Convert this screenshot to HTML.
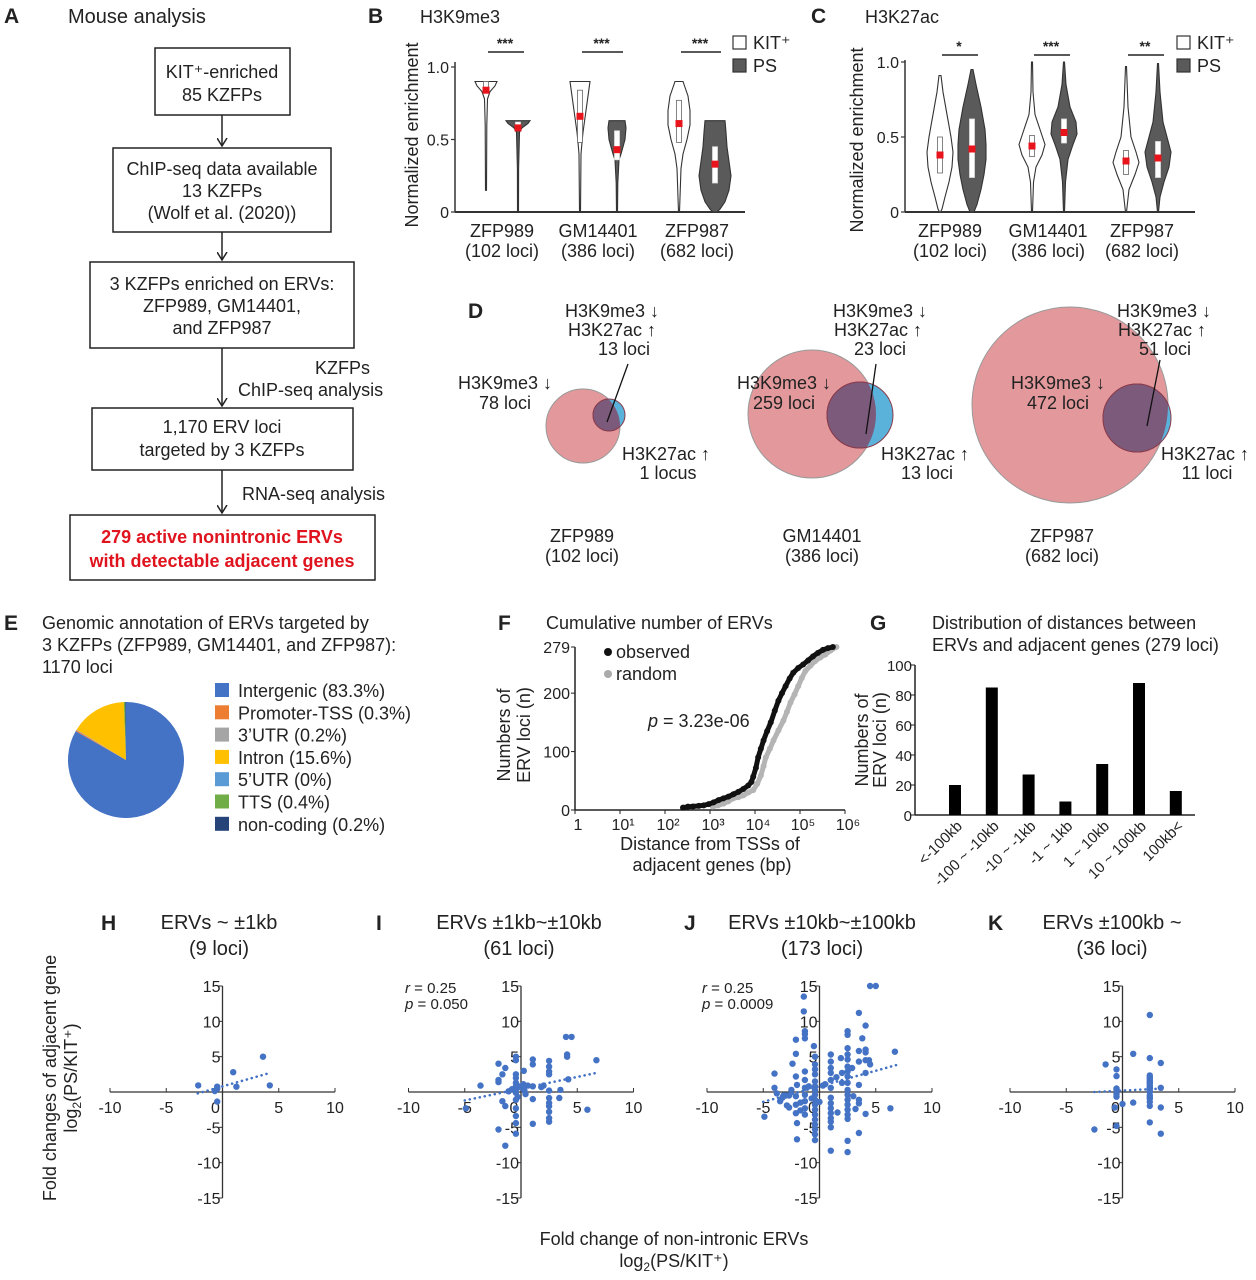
<!DOCTYPE html>
<html><head><meta charset="utf-8">
<style>
html,body{margin:0;padding:0;background:#fff;}
svg{display:block;font-family:"Liberation Sans",Arial,sans-serif;}
.t{font-size:18px;fill:#222;}
.s{font-size:16px;fill:#222;}
.k{font-size:15px;fill:#222;}
.L{font-size:21px;font-weight:bold;fill:#222;}
</style></head>
<body>
<svg id="fig" width="1256" height="1280" viewBox="0 0 1256 1280" xmlns="http://www.w3.org/2000/svg">
<defs>
<marker id="arr" markerWidth="12" markerHeight="12" refX="5" refY="8" orient="0" markerUnits="userSpaceOnUse"><path d="M0,0 L5,8 L10,0" fill="none" stroke="#222" stroke-width="1.5"/></marker>
<clipPath id="c1"><circle cx="583" cy="426" r="37"/></clipPath>
<clipPath id="c2"><circle cx="812" cy="414" r="64"/></clipPath>
<clipPath id="c3"><circle cx="1070" cy="405" r="98"/></clipPath>
</defs>

<!-- Panel A -->
<g>
<text x="4" y="23" class="L">A</text>
<text x="68" y="23" class="t" style="font-size:20px">Mouse analysis</text>
<rect x="155" y="48" width="135" height="67" fill="none" stroke="#222" stroke-width="1.5"/>
<text x="222" y="78" text-anchor="middle" class="t">KIT⁺-enriched</text>
<text x="222" y="101" text-anchor="middle" class="t">85 KZFPs</text>
<line x1="222" y1="115" x2="222" y2="146" stroke="#222" stroke-width="1.5" marker-end="url(#arr)"/>
<rect x="113" y="148" width="218" height="84" fill="none" stroke="#222" stroke-width="1.5"/>
<text x="222" y="175" text-anchor="middle" class="t">ChIP-seq data available</text>
<text x="222" y="197" text-anchor="middle" class="t">13 KZFPs</text>
<text x="222" y="219" text-anchor="middle" class="t">(Wolf et al. (2020))</text>
<line x1="222" y1="232" x2="222" y2="260" stroke="#222" stroke-width="1.5" marker-end="url(#arr)"/>
<rect x="90" y="262" width="264" height="86" fill="none" stroke="#222" stroke-width="1.5"/>
<text x="222" y="290" text-anchor="middle" class="t">3 KZFPs enriched on ERVs:</text>
<text x="222" y="312" text-anchor="middle" class="t">ZFP989, GM14401,</text>
<text x="222" y="334" text-anchor="middle" class="t">and ZFP987</text>
<line x1="222" y1="348" x2="222" y2="406" stroke="#222" stroke-width="1.5" marker-end="url(#arr)"/>
<text x="315" y="374" class="t">KZFPs</text>
<text x="238" y="396" class="t">ChIP-seq analysis</text>
<rect x="92" y="408" width="261" height="62" fill="none" stroke="#222" stroke-width="1.5"/>
<text x="222" y="433" text-anchor="middle" class="t">1,170 ERV loci</text>
<text x="222" y="456" text-anchor="middle" class="t">targeted by 3 KZFPs</text>
<line x1="222" y1="470" x2="222" y2="513" stroke="#222" stroke-width="1.5" marker-end="url(#arr)"/>
<text x="242" y="500" class="t">RNA-seq analysis</text>
<rect x="70" y="515" width="305" height="65" fill="none" stroke="#222" stroke-width="1.5"/>
<text x="222" y="543" text-anchor="middle" class="t" style="fill:#e0141e;font-weight:bold">279 active nonintronic ERVs</text>
<text x="222" y="567" text-anchor="middle" class="t" style="fill:#e0141e;font-weight:bold">with detectable adjacent genes</text>
</g>

<!-- Panel B / C static -->
<text x="368" y="23" class="L">B</text>
<text x="420" y="23" class="t">H3K9me3</text>
<text x="811" y="23" class="L">C</text>
<text x="865" y="23" class="t">H3K27ac</text>
<text transform="translate(418,135) rotate(-90)" text-anchor="middle" class="t">Normalized enrichment</text>
<text transform="translate(863,140) rotate(-90)" text-anchor="middle" class="t">Normalized enrichment</text>
<g id="gB"></g>
<g id="gC"></g>

<!-- Panel D -->
<g>
<text x="468" y="318" class="L">D</text>
<circle cx="583" cy="426" r="37" fill="#e3999c" stroke="#999" stroke-width="1"/>
<circle cx="609" cy="415" r="16" fill="#5ab2da" stroke="#8a3a4a" stroke-width="1"/>
<circle cx="609" cy="415" r="16" fill="#7b5a7b" clip-path="url(#c1)" stroke="#8a3a4a"/>
<circle cx="812" cy="414" r="64" fill="#e3999c" stroke="#999" stroke-width="1"/>
<circle cx="860" cy="415" r="33" fill="#5ab2da" stroke="#8a3a4a" stroke-width="1"/>
<circle cx="860" cy="415" r="33" fill="#7b5a7b" clip-path="url(#c2)" stroke="#8a3a4a"/>
<circle cx="1070" cy="405" r="98" fill="#e3999c" stroke="#999" stroke-width="1"/>
<circle cx="1137" cy="418" r="34" fill="#5ab2da" stroke="#8a3a4a" stroke-width="1"/>
<circle cx="1137" cy="418" r="34" fill="#7b5a7b" clip-path="url(#c3)" stroke="#8a3a4a"/>
<line x1="628" y1="364" x2="607" y2="422" stroke="#111" stroke-width="1.3"/>
<line x1="876" y1="364" x2="866" y2="434" stroke="#111" stroke-width="1.3"/>
<line x1="1160" y1="360" x2="1147" y2="426" stroke="#111" stroke-width="1.3"/>
<g class="t" text-anchor="middle">
<text x="612" y="317">H3K9me3 ↓</text>
<text x="612" y="336">H3K27ac ↑</text>
<text x="624" y="355">13 loci</text>
<text x="505" y="389">H3K9me3 ↓</text>
<text x="505" y="409">78 loci</text>
<text x="666" y="460">H3K27ac ↑</text>
<text x="668" y="479">1 locus</text>
<text x="880" y="317">H3K9me3 ↓</text>
<text x="878" y="336">H3K27ac ↑</text>
<text x="880" y="355">23 loci</text>
<text x="784" y="389">H3K9me3 ↓</text>
<text x="784" y="409">259 loci</text>
<text x="925" y="460">H3K27ac ↑</text>
<text x="927" y="479">13 loci</text>
<text x="1164" y="317">H3K9me3 ↓</text>
<text x="1162" y="336">H3K27ac ↑</text>
<text x="1165" y="355">51 loci</text>
<text x="1058" y="389">H3K9me3 ↓</text>
<text x="1058" y="409">472 loci</text>
<text x="1205" y="460">H3K27ac ↑</text>
<text x="1207" y="479">11 loci</text>
<text x="582" y="542">ZFP989</text>
<text x="582" y="562">(102 loci)</text>
<text x="822" y="542">GM14401</text>
<text x="822" y="562">(386 loci)</text>
<text x="1062" y="542">ZFP987</text>
<text x="1062" y="562">(682 loci)</text>
</g>
</g>

<!-- Panel E -->
<g>
<text x="4" y="630" class="L">E</text>
<text x="42" y="629" class="t">Genomic annotation of ERVs targeted by</text>
<text x="42" y="651" class="t">3 KZFPs (ZFP989, GM14401, and ZFP987):</text>
<text x="42" y="673" class="t">1170 loci</text>
<g id="gE"></g>
</g>

<!-- Panel F -->
<text x="498" y="630" class="L">F</text>
<text x="546" y="629" class="t">Cumulative number of ERVs</text>
<text transform="translate(510,735) rotate(-90)" text-anchor="middle" class="t">Numbers of</text>
<text transform="translate(530,735) rotate(-90)" text-anchor="middle" class="t">ERV loci (n)</text>
<text x="710" y="850" text-anchor="middle" class="t">Distance from TSSs of</text>
<text x="712" y="871" text-anchor="middle" class="t">adjacent genes (bp)</text>
<text x="648" y="727" class="t"><tspan font-style="italic">p</tspan> = 3.23e-06</text>
<circle cx="608" cy="652" r="4" fill="#111"/>
<text x="616" y="658" class="t">observed</text>
<circle cx="608" cy="674" r="4" fill="#aaa"/>
<text x="616" y="680" class="t">random</text>
<g id="gF"></g>

<!-- Panel G -->
<text x="870" y="630" class="L">G</text>
<text x="932" y="629" class="t">Distribution of distances between</text>
<text x="932" y="651" class="t">ERVs and adjacent genes (279 loci)</text>
<text transform="translate(868,740) rotate(-90)" text-anchor="middle" class="t">Numbers of</text>
<text transform="translate(886,740) rotate(-90)" text-anchor="middle" class="t">ERV loci (n)</text>
<g id="gG"></g>

<!-- Panels H-K -->
<g class="t" style="font-size:20px">
<text x="101" y="930" class="L">H</text>
<text x="219" y="929" text-anchor="middle">ERVs ~ ±1kb</text>
<text x="219" y="955" text-anchor="middle">(9 loci)</text>
<text x="376" y="930" class="L">I</text>
<text x="519" y="929" text-anchor="middle">ERVs ±1kb~±10kb</text>
<text x="519" y="955" text-anchor="middle">(61 loci)</text>
<text x="684" y="930" class="L">J</text>
<text x="822" y="929" text-anchor="middle">ERVs ±10kb~±100kb</text>
<text x="822" y="955" text-anchor="middle">(173 loci)</text>
<text x="988" y="930" class="L">K</text>
<text x="1112" y="929" text-anchor="middle">ERVs ±100kb ~</text>
<text x="1112" y="955" text-anchor="middle">(36 loci)</text>
</g>
<text x="405" y="993" class="k" style="font-size:15px"><tspan font-style="italic">r</tspan> = 0.25</text>
<text x="405" y="1009" class="k" style="font-size:15px"><tspan font-style="italic">p</tspan> = 0.050</text>
<text x="702" y="993" class="k" style="font-size:15px"><tspan font-style="italic">r</tspan> = 0.25</text>
<text x="702" y="1009" class="k" style="font-size:15px"><tspan font-style="italic">p</tspan> = 0.0009</text>
<text transform="translate(56,1078) rotate(-90)" text-anchor="middle" class="t">Fold changes of adjacent gene</text>
<text transform="translate(77,1078) rotate(-90)" text-anchor="middle" class="t">log<tspan font-size="12" dy="4">2</tspan><tspan dy="-4">(PS/KIT⁺)</tspan></text>
<text x="674" y="1245" text-anchor="middle" class="t">Fold change of non-intronic ERVs</text>
<text x="674" y="1267" text-anchor="middle" class="t">log<tspan font-size="12" dy="4">2</tspan><tspan dy="-4">(PS/KIT⁺)</tspan></text>
<g id="gS"></g>
</svg>

<script>
// ---------- DATA ----------
const violinGroups = ['ZFP989','GM14401','ZFP987'];
const violinLoci = ['(102 loci)','(386 loci)','(682 loci)'];
const bStars = ['***','***','***'];
const cStars = ['*','***','**'];
const bKitShapes = [
 [[0.9,11],[0.87,9],[0.83,4],[0.78,1.5],[0.6,0.8],[0.15,0.5]],
 [[0.9,10],[0.85,9],[0.75,7],[0.65,5],[0.55,3],[0.48,2],[0.4,1],[0,0.5]],
 [[0.9,4],[0.8,9],[0.7,11],[0.6,11],[0.5,8],[0.4,4],[0.3,2],[0.1,1],[0,0.5]]];
const bPsShapes = [
 [[0.63,12],[0.61,10],[0.58,4],[0.55,1.5],[0.3,0.6],[0,0.5]],
 [[0.63,8],[0.58,9],[0.5,8],[0.45,6],[0.4,4],[0.36,2],[0.2,0.8],[0,0.5]],
 [[0.63,10],[0.55,11],[0.45,12],[0.35,14],[0.25,16],[0.15,14],[0.07,10],[0.02,5],[0,2]]];
const bKitBox = [[0.84,0.9],[0.48,0.84],[0.48,0.77]];
const bPsBox = [[0.57,0.62],[0.36,0.56],[0.2,0.45]];
const bKitMean = [0.84,0.66,0.61];
const bPsMean = [0.58,0.43,0.33];
const cKitShapes = [
 [[0.91,1],[0.8,3],[0.65,7],[0.5,11],[0.4,13],[0.3,12],[0.2,9],[0.1,5],[0.02,2],[0,0.5]],
 [[1.0,0.5],[0.8,1],[0.65,3],[0.55,8],[0.45,13],[0.38,10],[0.3,4],[0.2,1.5],[0,0.5]],
 [[0.97,0.5],[0.7,2],[0.5,5],[0.4,10],[0.33,13],[0.25,9],[0.15,3],[0,0.5]]];
const cPsShapes = [
 [[0.95,1],[0.85,4],[0.7,9],[0.55,13],[0.45,14],[0.35,14],[0.25,12],[0.15,9],[0.05,5],[0,2]],
 [[1.0,0.5],[0.85,2],[0.7,6],[0.6,12],[0.52,13],[0.45,9],[0.35,4],[0.2,1.5],[0,0.5]],
 [[0.99,0.5],[0.8,2],[0.6,5],[0.5,9],[0.4,13],[0.3,11],[0.2,6],[0.1,2],[0,0.5]]];
const cKitBox = [[0.26,0.5],[0.37,0.51],[0.25,0.41]];
const cPsBox = [[0.23,0.62],[0.46,0.62],[0.23,0.47]];
const cKitMean = [0.38,0.44,0.34];
const cPsMean = [0.42,0.53,0.36];
const violinTicks = [0,0.5,1.0];
const violinTickLabels = ['0','0.5','1.0'];

const pieLabels = ['Intergenic (83.3%)','Promoter-TSS (0.3%)','3’UTR (0.2%)','Intron (15.6%)','5’UTR (0%)','TTS (0.4%)','non-coding (0.2%)'];
const pieValues = [83.3,0.3,0.2,15.6,0,0.4,0.2];
const pieColors = ['#4472c4','#ed7d31','#a5a5a5','#ffc000','#5b9bd5','#70ad47','#264478'];

const obsLogX = [2.4,2.51,2.62,2.75,2.86,2.97,3.08,3.19,3.3,3.41,3.52,3.63,3.74,3.85,3.92,3.96,4.02,4.07,4.13,4.19,4.27,4.35,4.44,4.52,4.6,4.68,4.77,4.85,4.96,5.07,5.18,5.29,5.4,5.51,5.62,5.73];
const obsN = [4,5.7,6,7,8,10,13,17,20,23,27,31,36,42,48,57,72,90,105,119,135,150,170,187,200,212,225,235,243,249,256,263,269,274,277,279];
const rndLogX = [3.06,3.18,3.3,3.41,3.52,3.63,3.74,3.85,3.96,4.05,4.13,4.19,4.24,4.33,4.41,4.52,4.63,4.71,4.79,4.88,4.96,5.04,5.12,5.23,5.34,5.45,5.56,5.68,5.81];
const rndN = [5.7,8,11,15,20,22,25,30,34,45,59,75,90,105,119,136,153,168,184,198,212,226,238,247,255,261,266,273,279];
const fTicksY = [0,100,200,279];
const fTicksX = [0,1,2,3,4,5,6];
const fTickXLabels = ['1','10¹','10²','10³','10⁴','10⁵','10⁶'];

const gCategories = ['<-100kb','-100 ~ -10kb','-10 ~ -1kb','-1 ~ 1kb','1 ~ 10kb','10 ~ 100kb','100kb<'];
const gValues = [20,85,27,9,34,88,16];
const gTicks = [0,20,40,60,80,100];

const hX = [-2.16,-0.47,-0.47,-0.68,-0.47,0.95,1.24,3.6,4.2];
const hY = [0.94,0.75,0.47,0.14,-1.36,2.8,0.75,5.0,0.94];
const hTrend = [[-2.2,-0.2],[4,2.6]];
const iX = [-4.9,-3.6,-2,-2,-2,-1.65,-1.4,-1.65,-1.4,-2,-1.4,-0.45,-0.45,-0.45,-0.45,-0.45,-0.45,-0.45,-0.45,-0.45,-0.45,-0.45,-0.45,-0.2,0.1,0.25,1.05,1.05,1.05,1.05,1.05,2.5,2.5,2.5,2.5,2.5,2.5,2.5,2.5,2.5,2.5,2,3.5,3.4,4,4.5,4.1,4.1,4.2,5.9,6.7,-0.45,0.3,-0.8,0.6,1.8,-0.3,0.4,-1.1,0.2,2.5];
const iY = [-2.3,0.9,4,1.7,1.4,2.5,3.4,-1.3,-2,-5.3,-7.6,5,4.5,2.5,2,1.3,0.8,0.3,-1.1,-2.3,-3.4,-4.4,-5.9,0.8,0.6,3,4.6,3.9,0.8,-1,-4.5,4.4,3.6,2.9,2.5,-0.85,-1.55,-2,-2.8,-3.7,-4.2,0.9,0.3,-0.85,7.8,7.8,5.3,5,1.8,-2.5,4.5,-0.1,0.2,0.4,0.9,0.7,-0.7,-0.3,0.1,1.1,0.2];
const iTrend = [[-5,-1.2],[6.7,2.7]];
const jX = [-4.9,-4,-4,-3.5,-3.2,-3,-2.7,-2.4,-2.1,-2.1,-2.1,-2,-2.1,-2.1,-2.1,-2,-2,-2.5,-1.4,-1.4,-1.3,-1.3,-1.3,-1.3,-1.3,-1.3,-1.3,-1.3,-1.3,-1.3,-0.95,-0.5,-0.4,-0.4,-0.4,-0.4,-0.4,-0.4,-0.4,-0.4,-0.4,-0.4,-0.4,-0.4,-0.4,-0.4,-0.4,-0.4,-0.4,0,1,1,1,1,1,1,1,1,1,1,1,1,1,1,0.5,1.9,2,2,2.5,2.5,2.5,2.5,2.5,2.5,2.5,2.5,2.5,2.5,2.5,2.5,2.5,2.5,2.5,2.5,2.5,2.5,2.9,3.5,3.5,3.5,3.5,3.5,3.5,3.5,3.8,4.1,4.1,4.1,4.1,4.4,4.1,4.1,4.5,5,4.5,6.3,6.7,-3.8,-3.3,-2.9,-1.7,-0.7,0.3,1.5,3,-1.7,-2.7,1.6,3.2];
const jY = [-3.5,2.6,0.6,-1.3,-0.5,-0.5,-0.5,4,5.4,7.4,2.2,1,-0.6,-1.8,-3,-4.4,-6.7,0.3,13.5,11.4,8.6,8.2,7.6,2.9,1.7,0.6,-0.4,-1.3,-2.3,-3.2,0.8,6.5,5,3.9,3.2,2.5,1.5,0.8,0.3,-0.4,-1.1,-1.8,-2.5,-3.2,-3.9,-4.6,-5.3,-6,-6.8,-1.4,5.3,4.3,3.4,2.7,1.7,0.6,-0.8,-1.6,-2.3,-3,-3.7,-4.2,-5,-8.3,1.1,4.8,2.7,1.3,8.6,8.1,6.2,5.3,4.6,3.6,2.9,2.2,1.3,0.3,-0.4,-1.1,-1.8,-2.5,-3.2,-3.8,-6.9,-8.5,3.4,11.2,5.8,4.3,1,-1.1,-1.6,-5.8,7.6,9.4,6,5.6,4.5,4.5,2.7,-3.1,15,15,3.9,-2.3,5.7,-0.2,-0.8,-1.9,-2.6,-0.9,0.9,2.1,-0.6,-1.5,-2.2,-2.9,-2.4];
const jTrend = [[-5,-1.4],[6.8,3.8]];
const kX = [2.43,0.95,2.43,3.4,-1.5,-0.53,-0.53,2.43,2.43,2.43,2.43,2.43,2.43,2.43,2.43,2.43,2.43,3.4,-0.53,-0.53,-0.68,0,0.95,3.4,2.43,-0.53,-2.5,3.4,2.43,2.43,-0.53,-0.53,2.43,2.43,2.43,2.43];
const kY = [10.9,5.4,4.8,4.1,3.9,3.2,2.25,2.35,1.9,1.4,0.94,0.47,0,-0.47,-0.94,-1.4,-1.97,0.6,0.28,-0.66,-2.2,-1.7,-1.5,-2.2,-4.3,-4.8,-5.3,-5.9,2.1,1.6,0.5,-0.3,1.2,0.7,0.2,-0.7];
const kTrend = [[-2.5,0],[3.8,0.5]];
const scTicks = [-10,-5,5,10];
const scYTicks = [15,10,5,-5,-10,-15];

// ---------- HELPERS ----------
const NS='http://www.w3.org/2000/svg';
function mk(parent, tag, attrs, text){
  const el=document.createElementNS(NS,tag);
  for(const k in attrs) el.setAttribute(k,attrs[k]);
  if(text!==undefined) el.textContent=text;
  parent.appendChild(el); return el;
}

// ---------- VIOLINS ----------
function drawViolin(g, cfg){
  const yS=v=>cfg.y0-(v)*cfg.ys;
  let ax=mk(g,'line',{x1:cfg.ax,y1:cfg.yTop,x2:cfg.ax,y2:cfg.y0,stroke:'#333','stroke-width':1.5});
  
  
  ax=mk(g,'line',{x1:cfg.ax,y1:cfg.y0,x2:cfg.axEnd,y2:cfg.y0,stroke:'#333','stroke-width':2});
  
  
  violinTicks.forEach((t,i)=>{
    let tk=mk(g,'line',{x1:cfg.ax-4,y1:yS(t),x2:cfg.ax,y2:yS(t),stroke:'#333','stroke-width':1.2});
    
    
    let tl=mk(g,'text',{x:cfg.ax-6,y:yS(t)+6,'text-anchor':'end',class:'k',style:'font-size:16px'},violinTickLabels[i]);
    
    
  });
  violinGroups.forEach((name,gi)=>{
    const xs=[cfg.kitX[gi],cfg.psX[gi]];
    const shapes=[cfg.kitShapes[gi],cfg.psShapes[gi]];
    const boxes=[cfg.kitBox[gi],cfg.psBox[gi]];
    const means=[cfg.kitMean[gi],cfg.psMean[gi]];
    for(let s=0;s<2;s++){
      const cx=xs[s], sh=shapes[s];
      let pts=sh.map(p=>[cx+p[1],yS(p[0])]);
      let back=sh.slice().reverse().map(p=>[cx-p[1],yS(p[0])]);
      const d='M'+pts.concat(back).map(p=>p[0].toFixed(1)+','+p[1].toFixed(1)).join(' L')+' Z';
      let v=mk(g,'path',{d:d,fill:s?'#5a5a5a':'#fff',stroke:'#333','stroke-width':1.1});
      
      
      const b=boxes[s];
      let bx=mk(g,'rect',{x:cx-2.5,y:yS(b[1]),width:5,height:yS(b[0])-yS(b[1]),fill:'#fff',stroke:s?'#ddd':'#666','stroke-width':0.8});
      
      
      let m=mk(g,'rect',{x:cx-3.5,y:yS(means[s])-3.5,width:7,height:7,fill:'#e8141c'});
      
      
    }
    const mid=(xs[0]+xs[1])/2;
    let sl=mk(g,'line',{x1:xs[0]+2,y1:cfg.sigY,x2:xs[1]+6,y2:cfg.sigY,stroke:'#222','stroke-width':1.5});
    
    
    let st=mk(g,'text',{x:mid+3,y:cfg.sigY-4,'text-anchor':'middle',class:'k',style:'font-size:14px;font-weight:bold'},cfg.stars[gi]);
    
    
    let l1=mk(g,'text',{x:cfg.labX[gi],y:cfg.y0+25,'text-anchor':'middle',class:'t'},name);
    
    
    let l2=mk(g,'text',{x:cfg.labX[gi],y:cfg.y0+45,'text-anchor':'middle',class:'t'},violinLoci[gi]);
    
    
  });
  let r1=mk(g,'rect',{x:cfg.legX,y:36,width:13,height:13,fill:'#fff',stroke:'#333','stroke-width':1.2});
  
  
  let t1=mk(g,'text',{x:cfg.legX+20,y:49,class:'t'},'KIT⁺');
  
  
  let r2=mk(g,'rect',{x:cfg.legX,y:59,width:13,height:13,fill:'#5a5a5a',stroke:'#333','stroke-width':1.2});
  
  
  let t2=mk(g,'text',{x:cfg.legX+20,y:72,class:'t'},'PS');
  
  
}
drawViolin(document.getElementById('gB'),{y0:212,ys:145,yTop:62,ax:455,axEnd:745,kitX:[486,580,679],psX:[518,617,715],labX:[502,598,697],sigY:52,stars:bStars,legX:733,
 kitShapes:bKitShapes,psShapes:bPsShapes,kitBox:bKitBox,psBox:bPsBox,kitMean:bKitMean,psMean:bPsMean});
drawViolin(document.getElementById('gC'),{y0:212,ys:150,yTop:60,ax:905,axEnd:1195,kitX:[940,1032,1126],psX:[972,1064,1158],labX:[950,1048,1142],sigY:55,stars:cStars,legX:1177,
 kitShapes:cKitShapes,psShapes:cPsShapes,kitBox:cKitBox,psBox:cPsBox,kitMean:cKitMean,psMean:cPsMean});

// ---------- PIE ----------
(function(){
  const g=document.getElementById('gE');
  const cx=126, cy=760, r=58;
  const total=pieValues.reduce((a,b)=>a+b,0);
  let a0=0;
  pieValues.forEach((v,i)=>{
    const a1=a0+v/total*2*Math.PI;
    if(v>0){
      const x0=cx+r*Math.sin(a0), y0=cy-r*Math.cos(a0), x1=cx+r*Math.sin(a1), y1=cy-r*Math.cos(a1);
      const large=(a1-a0)>Math.PI?1:0;
      let p=mk(g,'path',{d:`M${cx},${cy} L${x0.toFixed(2)},${y0.toFixed(2)} A${r},${r} 0 ${large} 1 ${x1.toFixed(2)},${y1.toFixed(2)} Z`,fill:pieColors[i]});
      
      
    }
    a0=a1;
    let sw=mk(g,'rect',{x:215,y:683+i*22.3,width:14,height:14,fill:pieColors[i]});
    
    
    let tx=mk(g,'text',{x:238,y:697+i*22.3,class:'t'},pieLabels[i]);
    
    
  });
})();

// ---------- F ----------
(function(){
  const g=document.getElementById('gF');
  const X0=575, XS=45, Y0=810, YS=163/279;
  const xs=v=>X0+v*XS, ys=v=>Y0-v*YS;
  let a=mk(g,'line',{x1:X0,y1:ys(279),x2:X0,y2:Y0,stroke:'#222','stroke-width':1.5});
  
  
  a=mk(g,'line',{x1:X0,y1:Y0,x2:xs(6),y2:Y0,stroke:'#222','stroke-width':1.5});
  
  
  fTicksY.forEach(t=>{
    let k=mk(g,'line',{x1:X0-4,y1:ys(t),x2:X0,y2:ys(t),stroke:'#222'});
    
    
    let l=mk(g,'text',{x:X0-5,y:ys(t)+6,'text-anchor':'end',class:'k',style:'font-size:16px'},String(t));
    
    
  });
  fTicksX.forEach((t,i)=>{
    let k=mk(g,'line',{x1:xs(t),y1:Y0,x2:xs(t),y2:Y0+4,stroke:'#222'});
    
    
    let l=mk(g,'text',{x:xs(t)+3,y:Y0+20,'text-anchor':'middle',class:'k',style:'font-size:16px'},fTickXLabels[i]);
    
    
  });
  function series(X,N,col,name){
    let pl=mk(g,'polyline',{points:X.map((x,i)=>xs(x).toFixed(1)+','+ys(N[i]).toFixed(1)).join(' '),fill:'none',stroke:col,'stroke-width':5,'stroke-linejoin':'round','stroke-linecap':'round'});
    
    
    X.forEach((x,i)=>{
      let c=mk(g,'circle',{cx:xs(x),cy:ys(N[i]),r:3,fill:col});
      
      
    });
  }
  series(rndLogX,rndN,'#b4b4b4','random');
  series(obsLogX,obsN,'#111','observed');
})();

// ---------- G ----------
(function(){
  const g=document.getElementById('gG');
  const X0=915, Y0=815, YS=150/100, BW=12, STEP=36.8, FIRST=955;
  const ys=v=>Y0-v*YS;
  let a=mk(g,'line',{x1:X0,y1:ys(100),x2:X0,y2:Y0,stroke:'#222','stroke-width':1.5});
  
  
  a=mk(g,'line',{x1:X0,y1:Y0,x2:1195,y2:Y0,stroke:'#222','stroke-width':1.5});
  
  
  gTicks.forEach(t=>{
    let k=mk(g,'line',{x1:X0-4,y1:ys(t),x2:X0,y2:ys(t),stroke:'#222'});
    
    
    let l=mk(g,'text',{x:X0-3,y:ys(t)+6,'text-anchor':'end',class:'k',style:'font-size:15px'},String(t));
    
    
  });
  gValues.forEach((v,i)=>{
    const cx=FIRST+i*STEP;
    let b=mk(g,'rect',{x:cx-BW/2,y:ys(v),width:BW,height:Y0-ys(v),fill:'#000'});
    
    
    let l=mk(g,'text',{transform:`translate(${cx+8},${Y0+12}) rotate(-45)`,'text-anchor':'end',class:'k'},gCategories[i]);
    
    
  });
})();

// ---------- SCATTERS ----------
(function(){
  const g=document.getElementById('gS');
  const panels=[[222.5,hX,hY,hTrend,'h'],[521,iX,iY,iTrend,'i'],[819.5,jX,jY,jTrend,'j'],[1122.5,kX,kY,kTrend,'k']];
  const Y0=1092, XS=11.25, YS=106/15;
  panels.forEach(p=>{
    const ox=p[0]; const xs=v=>ox+v*XS, ys=v=>Y0-v*YS;
    let a=mk(g,'line',{x1:xs(-10),y1:Y0,x2:xs(10),y2:Y0,stroke:'#333','stroke-width':1.3});
    
    
    a=mk(g,'line',{x1:ox,y1:ys(15),x2:ox,y2:ys(-15),stroke:'#333','stroke-width':1.3});
    
    
    scTicks.forEach(t=>{
      let k=mk(g,'line',{x1:xs(t),y1:Y0,x2:xs(t),y2:Y0-4,stroke:'#333'});
      
      
      let l=mk(g,'text',{x:xs(t),y:Y0+21,'text-anchor':'middle',class:'k',style:'font-size:16px'},String(t));
      
      
    });
    let z=mk(g,'text',{x:ox-7,y:Y0+21,'text-anchor':'middle',class:'k',style:'font-size:16px'},'0');
    
    
    scYTicks.forEach(t=>{
      let k=mk(g,'line',{x1:ox-4,y1:ys(t),x2:ox,y2:ys(t),stroke:'#333'});
      
      
      let l=mk(g,'text',{x:ox-2,y:ys(t)+6,'text-anchor':'end',class:'k',style:'font-size:16px'},String(t));
      
      
    });
    p[1].forEach((x,i)=>{
      let c=mk(g,'circle',{cx:xs(x).toFixed(1),cy:ys(p[2][i]).toFixed(1),r:3.2,fill:'#4472c4'});
      
      
    });
    const tr=p[3];
    let tl=mk(g,'line',{x1:xs(tr[0][0]),y1:ys(tr[0][1]),x2:xs(tr[1][0]),y2:ys(tr[1][1]),stroke:'#4472c4','stroke-width':2.6,'stroke-dasharray':'0.1 5','stroke-linecap':'round'});
    
    
  });
})();
</script>
</body></html>
